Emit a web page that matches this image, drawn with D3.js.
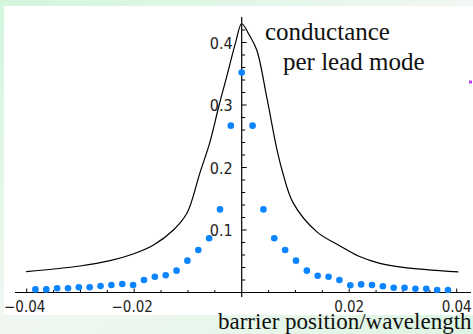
<!DOCTYPE html>
<html>
<head>
<meta charset="utf-8">
<script src="https://cdn.jsdelivr.net/npm/d3@7"></script>
<style>
  html, body { margin: 0; padding: 0; }
  body { width: 473px; height: 334px; overflow: hidden; }
</style>
</head>
<body>
<div id="chart"></div>
<script>
// dots: barrier position (fraction of wavelength) and conductance per lead mode
const dotX = [-0.03838, -0.03636, -0.03434, -0.03232, -0.0303, -0.02828, -0.02626, -0.02424, -0.02222, -0.0202,
    -0.01818, -0.01616, -0.01414, -0.01212, -0.0101, -0.00808, -0.00606, -0.00404, -0.00202, 0,
    0.00202, 0.00404, 0.00606, 0.00808, 0.0101, 0.01212, 0.01414, 0.01616, 0.01818, 0.0202,
    0.02222, 0.02424, 0.02626, 0.02828, 0.0303, 0.03232, 0.03434, 0.03636, 0.03838];
const dotY = [0.005, 0.005, 0.0067, 0.0067, 0.0083, 0.0083, 0.0104, 0.012, 0.0136, 0.012,
    0.02, 0.0253, 0.0275, 0.035, 0.051, 0.068, 0.0867, 0.133, 0.267, 0.352,
    0.267, 0.133, 0.0867, 0.068, 0.051, 0.035, 0.0269, 0.0253, 0.02, 0.0115,
    0.013, 0.012, 0.0099, 0.0077, 0.0077, 0.0061, 0.0061, 0.004, 0.004];

// solid curve
const lineX = [-0.0401, -0.0301, -0.0245, -0.0202, -0.0164, -0.0127, -0.0102, -0.0078, -0.0059, -0.0042, -0.0028, -0.0011, 0,
    0.0014, 0.0028, 0.00465, 0.0065, 0.0075, 0.0096, 0.014, 0.0183, 0.0217, 0.0257, 0.030, 0.0403];
const lineY = [0.0333, 0.0424, 0.0509, 0.0616, 0.076, 0.100, 0.1267, 0.1907, 0.241, 0.300, 0.345, 0.401, 0.430,
    0.412, 0.388, 0.313, 0.231, 0.196, 0.143, 0.097, 0.0744, 0.0584, 0.0467, 0.0403, 0.033];

const xTicks = [-0.04, -0.02, 0.02, 0.04];
const xTickLabels = ["\u22120.04", "\u22120.02", "0.02", "0.04"];
const yTicks = [0.1, 0.2, 0.3, 0.4];
const yTickLabels = ["0.1", "0.2", "0.3", "0.4"];

const width = 473, height = 334;

const svg = d3.select("#chart")
    .append("svg")
    .attr("width", width)
    .attr("height", height);

const defs = svg.append("defs");
const grad = defs.append("linearGradient")
    .attr("id", "bg")
    .attr("x1", "0").attr("y1", "0").attr("x2", "1").attr("y2", "1");
grad.append("stop").attr("offset", "0").attr("stop-color", "#d2f6dc");
grad.append("stop").attr("offset", "0.5").attr("stop-color", "#f1f7f2");
grad.append("stop").attr("offset", "1").attr("stop-color", "#dcf5e2");

svg.append("rect")
    .attr("width", width).attr("height", height)
    .attr("fill", "url(#bg)");

svg.append("rect")
    .attr("x", 4).attr("y", 6)
    .attr("width", width - 4).attr("height", 309)
    .attr("fill", "#ffffff");

const x = d3.scaleLinear().domain([-0.04, 0.04]).range([26.7, 456.7]);
const y = d3.scaleLinear().domain([0, 0.4]).range([292.5, 42.5]);

// x axis
svg.append("line")
    .attr("x1", 15).attr("x2", 471)
    .attr("y1", y(0)).attr("y2", y(0))
    .attr("stroke", "#000").attr("stroke-width", 1.2);

svg.append("g")
    .selectAll("line")
    .data(d3.range(-8, 9).filter(i => i !== 0).map(i => i * 0.005))
    .join("line")
    .attr("x1", d => x(d)).attr("x2", d => x(d))
    .attr("y1", y(0)).attr("y2", d => y(0) - (Math.abs(Math.round(d * 1000)) % 20 === 0 ? 4 : 2.5))
    .attr("stroke", "#000").attr("stroke-width", 1);

svg.append("g")
    .selectAll("text")
    .data(xTicks)
    .join("text")
    .attr("x", d => x(d) - (d < 0 ? 2 : 0))
    .attr("y", 312)
    .attr("text-anchor", "middle")
    .attr("font-family", "'Liberation Sans Narrow', 'DejaVu Sans Condensed', sans-serif")
    .attr("font-size", 15)
    .attr("fill", "#222")
    .text((d, i) => xTickLabels[i]);

// y axis
svg.append("line")
    .attr("x1", x(0)).attr("x2", x(0))
    .attr("y1", 17).attr("y2", 297)
    .attr("stroke", "#000").attr("stroke-width", 1.2);

svg.append("g")
    .selectAll("line")
    .data(d3.range(1, 22).map(i => i * 0.02))
    .join("line")
    .attr("x1", x(0)).attr("x2", (d, i) => x(0) + ((i + 1) % 5 === 0 ? 5 : 3.5))
    .attr("y1", d => y(d)).attr("y2", d => y(d))
    .attr("stroke", "#000").attr("stroke-width", 1);

svg.append("g")
    .selectAll("text")
    .data(yTicks)
    .join("text")
    .attr("x", x(0) - 9)
    .attr("y", d => y(d) + 6)
    .attr("text-anchor", "end")
    .attr("font-family", "'Liberation Sans Narrow', 'DejaVu Sans Condensed', sans-serif")
    .attr("font-size", 16)
    .attr("fill", "#222")
    .text((d, i) => yTickLabels[i]);

// curve
const lineData = lineX.map((d, i) => [d, lineY[i]]);
svg.append("path")
    .datum(lineData)
    .attr("fill", "none")
    .attr("stroke", "#000")
    .attr("stroke-width", 1.2)
    .attr("d", d3.line().x(d => x(d[0])).y(d => y(d[1])).curve(d3.curveCatmullRom.alpha(0.5)));

// dots
svg.append("g")
    .selectAll("circle")
    .data(dotX.map((d, i) => [d, dotY[i]]))
    .join("circle")
    .attr("cx", d => x(d[0]))
    .attr("cy", d => y(d[1]))
    .attr("r", 3.3)
    .attr("fill", "#0a84ff");

// annotation
const serif = "'Liberation Serif', 'DejaVu Serif', serif";
svg.append("text")
    .attr("x", 265).attr("y", 40)
    .attr("font-family", serif).attr("font-size", 25)
    .attr("fill", "#111")
    .text("conductance");
svg.append("text")
    .attr("x", 283).attr("y", 70)
    .attr("font-family", serif).attr("font-size", 25)
    .attr("fill", "#111")
    .text("per lead mode");

svg.append("text")
    .attr("x", 218).attr("y", 329)
    .attr("font-family", serif).attr("font-size", 23)
    .attr("fill", "#111")
    .text("barrier position/wavelength");

// stray purple mark
svg.append("rect")
    .attr("x", 469).attr("y", 80.5)
    .attr("width", 3).attr("height", 3)
    .attr("fill", "#c040f0");
</script>
</body>
</html>
